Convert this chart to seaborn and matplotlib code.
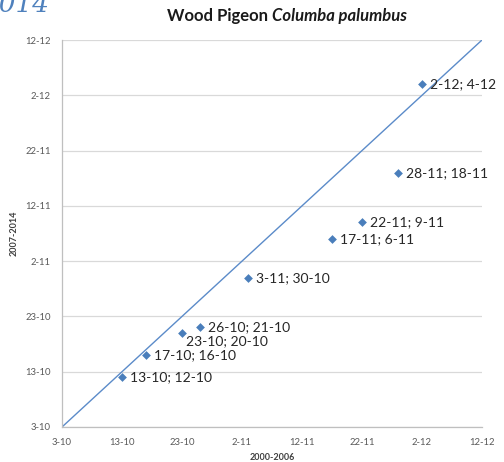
import matplotlib
matplotlib.use("Agg")
import matplotlib.pyplot as plt
import seaborn as sns
import pandas as pd

# dates as day-month, first period (x) vs second period (y)
dates_2000_2006 = ["13-10", "17-10", "23-10", "26-10", "3-11", "17-11", "22-11", "28-11", "2-12"]
dates_2007_2014 = ["12-10", "16-10", "20-10", "21-10", "30-10", "6-11", "9-11", "18-11", "4-12"]
tick_labels = ["3-10", "13-10", "23-10", "2-11", "12-11", "22-11", "2-12", "12-12"]
label_below = ["23-10"]


def to_day(s, start="3-10"):
    d = pd.to_datetime(s + "-2001", format="%d-%m-%Y")
    d0 = pd.to_datetime(start + "-2001", format="%d-%m-%Y")
    return (d - d0).days


df = pd.DataFrame({
    "x": [to_day(s) for s in dates_2000_2006],
    "y": [to_day(s) for s in dates_2007_2014],
    "label": [f"{a}; {b}" for a, b in zip(dates_2000_2006, dates_2007_2014)],
})
ticks = [to_day(s) for s in tick_labels]

sns.set_style("white")
plt.rcParams["font.family"] = ["Lato", "DejaVu Sans"]

fig = plt.figure(figsize=(5.04, 4.62), dpi=100)
ax = fig.add_axes([62 / 504, 1 - 427 / 462, 420 / 504, 387 / 462])

blue = "#4a7ebb"
ax.axline((0, 0), slope=1, color="#5b8bc9", linewidth=1, zorder=2)
sns.scatterplot(data=df, x="x", y="y", marker="D", s=20, color=blue,
                edgecolor=blue, linewidth=0, ax=ax, zorder=3)

for _, r in df.iterrows():
    below = r["label"].split(";")[0] in label_below
    ax.annotate(r["label"], (r["x"], r["y"]),
                xytext=(3, -6) if below else (6, 0), textcoords="offset points",
                ha="left", va="center", fontsize=10, color="#262626")

ax.set_xlim(ticks[0], ticks[-1])
ax.set_ylim(ticks[0], ticks[-1])
ax.set_xticks(ticks)
ax.set_yticks(ticks)
ax.set_xticklabels(tick_labels)
ax.set_yticklabels(tick_labels)
ax.yaxis.grid(True, color="#d9d9d9", linewidth=0.9)
ax.set_axisbelow(True)
for side in ["top", "right"]:
    ax.spines[side].set_visible(False)
for side in ["left", "bottom"]:
    ax.spines[side].set_color("#bfbfbf")
    ax.spines[side].set_linewidth(0.9)
ax.tick_params(axis="both", direction="out", length=4, width=0.8, color="#bfbfbf",
               labelsize=6.8, labelcolor="#595959", pad=4)

ax.set_xlabel("2000-2006", fontsize=6.5, fontweight="bold", color="#404040", labelpad=4)
ax.set_ylabel("2007-2014", fontsize=6.5, fontweight="bold", color="#404040", labelpad=5)

fig.text(268 / 504, 1 - 16 / 462, "Wood Pigeon", ha="right", va="center",
         fontsize=12, fontweight="bold", color="#1a1a1a")
fig.text(272 / 504, 1 - 16 / 462, "Columba palumbus", ha="left", va="center",
         fontsize=12, fontweight="bold", style="italic", color="#1a1a1a")

# clipped fragment of a heading above the chart
fig.text(-18 / 504, 1 - 4 / 462, "2014", ha="left", va="center", fontsize=19,
         style="italic", color="#4f81bd", family=["DejaVu Serif"])

fig.savefig("out.png", dpi=100)
